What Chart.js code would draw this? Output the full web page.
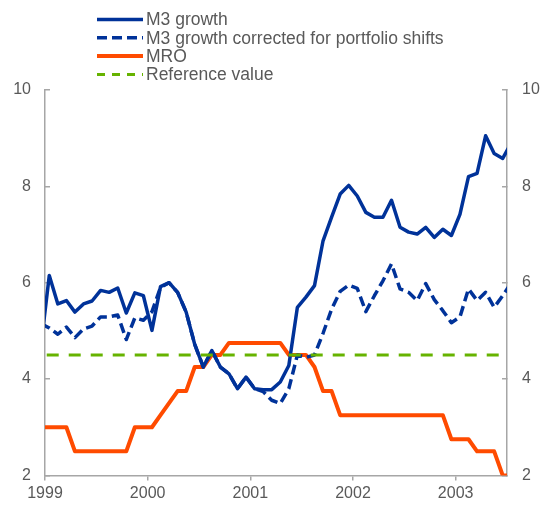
<!DOCTYPE html>
<html>
<head>
<meta charset="utf-8">
<script src="https://cdn.jsdelivr.net/npm/chart.js@4/dist/chart.umd.min.js"></script>
<style>
  html, body { margin: 0; padding: 0; background: #fff; }
  #wrap { width: 542px; height: 505px; }
</style>
</head>
<body>
<div id="wrap"><canvas id="m3Chart"></canvas></div>
<script>
// Monthly observations, Dec 1998 .. Jul 2003 (first and last fall just outside the axis)
const months = [];
for (let y = 1998; y <= 2003; y++) {
  for (let m = 1; m <= 12; m++) {
    const key = y + '-' + String(m).padStart(2, '0');
    if (key >= '1998-12' && key <= '2003-07') months.push(key);
  }
}

const m3Growth = [
  4.65,
  6.15, 5.56, 5.63, 5.39, 5.56, 5.62, 5.84, 5.80, 5.89, 5.37, 5.79, 5.73,
  5.01, 5.92, 6.00, 5.80, 5.39, 4.72, 4.25, 4.59, 4.25, 4.11, 3.80, 4.04,
  3.80, 3.78, 3.78, 3.94, 4.28, 5.49, 5.70, 5.94, 6.87, 7.36, 7.84, 8.02,
  7.80, 7.46, 7.36, 7.36, 7.71, 7.15, 7.05, 7.01, 7.15, 6.94, 7.11, 6.98,
  7.42, 8.20, 8.27, 9.05, 8.68, 8.58,
  8.90
];

const m3Corrected = [
  5.15,
  5.06, 4.93, 5.08, 4.86, 5.04, 5.10, 5.29, 5.29, 5.33, 4.82, 5.27, 5.22,
  5.40, 5.90, 6.00, 5.80, 5.39, 4.72, 4.25, 4.59, 4.25, 4.11, 3.80, 4.04,
  3.80, 3.74, 3.56, 3.49, 3.80, 4.50, 4.45, 4.50, 4.95, 5.45, 5.82, 5.95,
  5.88, 5.40, 5.73, 6.04, 6.39, 5.87, 5.80, 5.63, 5.98, 5.65, 5.42, 5.17,
  5.29, 5.87, 5.63, 5.80, 5.49, 5.73,
  6.00
];

const mroRate = [
  3.00,
  3.00, 3.00, 3.00, 2.50, 2.50, 2.50, 2.50, 2.50, 2.50, 2.50, 3.00, 3.00,
  3.00, 3.25, 3.50, 3.75, 3.75, 4.25, 4.25, 4.50, 4.50, 4.75, 4.75, 4.75,
  4.75, 4.75, 4.75, 4.75, 4.50, 4.50, 4.50, 4.25, 3.75, 3.75, 3.25, 3.25,
  3.25, 3.25, 3.25, 3.25, 3.25, 3.25, 3.25, 3.25, 3.25, 3.25, 3.25, 2.75,
  2.75, 2.75, 2.50, 2.50, 2.50, 2.00,
  2.00
];

const referenceValue = 4.5;

const yearTicks = [1999, 2000, 2001, 2002, 2003];
const yTicks = [2, 4, 6, 8, 10];

// months since Jan 1999, plotted mid-month
const monthPos = key => {
  const [y, m] = key.split('-').map(Number);
  return (y - 1999) * 12 + (m - 1) + 0.5;
};
const series = values => months.map((k, i) => ({ x: monthPos(k), y: values[i] }));

const TEXT = '#595959';
const AXIS = '#a6a6a6';
const FONT = '"Liberation Sans", Arial, sans-serif';

// legend drawn as a plain stacked list above the plot
const seriesKey = {
  id: 'seriesKey',
  afterDraw(chart) {
    const ctx = chart.ctx;
    ctx.save();
    ctx.font = '17.5px ' + FONT;
    ctx.textBaseline = 'middle';
    chart.data.datasets.forEach((ds, i) => {
      const y = 19.5 + i * 18.3;
      ctx.strokeStyle = ds.borderColor;
      ctx.lineWidth = ds.borderWidth;
      ctx.setLineDash(ds.keyDash || []);
      ctx.beginPath();
      ctx.moveTo(97, y);
      ctx.lineTo(143, y);
      ctx.stroke();
      ctx.fillStyle = TEXT;
      ctx.fillText(ds.label, 146, y + 1);
    });
    ctx.restore();
  }
};

const yAxis = (position, width, pad) => ({
  type: 'linear',
  position,
  min: 2,
  max: 10,
  afterBuildTicks: s => { s.ticks = yTicks.map(v => ({ value: v })); },
  afterFit: s => { s.width = width; },
  border: { color: AXIS, width: 1.5 },
  grid: { drawOnChartArea: false, tickLength: -5, color: AXIS, lineWidth: 1.5 },
  ticks: { color: TEXT, padding: pad, font: { family: FONT, size: 16 } }
});

new Chart(document.getElementById('m3Chart'), {
  type: 'line',
  data: {
    datasets: [
      {
        label: 'M3 growth',
        data: series(m3Growth),
        borderColor: '#003299',
        borderWidth: 3.5,
        order: 1
      },
      {
        label: 'M3 growth corrected for portfolio shifts',
        data: series(m3Corrected),
        borderColor: '#003299',
        borderWidth: 3.5,
        borderDash: [10, 5],
        keyDash: [10, 5],
        order: 2
      },
      {
        label: 'MRO',
        data: series(mroRate),
        borderColor: '#ff4b00',
        borderWidth: 4,
        order: 3
      },
      {
        label: 'Reference value',
        data: months.map(k => ({ x: monthPos(k), y: referenceValue })),
        borderColor: '#66b300',
        borderWidth: 3,
        borderDash: [12, 10],
        borderDashOffset: 16,
        keyDash: [8, 7],
        order: 0
      }
    ]
  },
  options: {
    responsive: true,
    maintainAspectRatio: false,
    animation: false,
    layout: { padding: { top: 90, left: 0, right: 0, bottom: 0 } },
    elements: {
      point: { radius: 0 },
      line: { tension: 0, borderCapStyle: 'butt', borderJoinStyle: 'round' }
    },
    plugins: {
      legend: { display: false },
      tooltip: { enabled: false }
    },
    scales: {
      x: {
        type: 'linear',
        min: 0,
        max: 54,
        afterBuildTicks: s => { s.ticks = yearTicks.map(yr => ({ value: (yr - 1999) * 12 })); },
        afterFit: s => { s.height = 28; },
        border: { color: AXIS, width: 1.5 },
        grid: { drawOnChartArea: false, tickLength: 5, color: AXIS, lineWidth: 1.5 },
        ticks: {
          color: TEXT,
          padding: 4,
          maxRotation: 0,
          font: { family: FONT, size: 16 },
          callback: v => String(1999 + v / 12)
        }
      },
      y: yAxis('left', 45, 19),
      y1: yAxis('right', 35, 20)
    }
  },
  plugins: [seriesKey]
});
</script>
</body>
</html>
